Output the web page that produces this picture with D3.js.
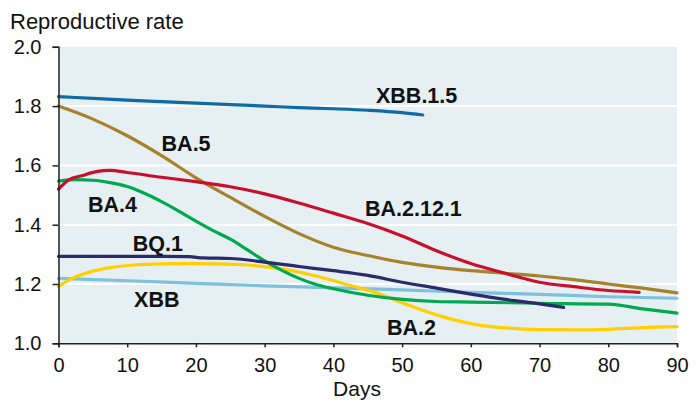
<!DOCTYPE html>
<html>
<head>
<meta charset="utf-8">
<script src="https://cdn.jsdelivr.net/npm/d3@7"></script>
<style>
  html, body { margin: 0; padding: 0; background: #ffffff; }
  svg { display: block; font-family: "Liberation Sans", Arial, Helvetica, sans-serif; }
</style>
</head>
<body>
<svg id="chart" width="695" height="400"></svg>
<script>
// ---------- data ----------
const xTicks = [0, 10, 20, 30, 40, 50, 60, 70, 80, 90];
const yTicks = [1.0, 1.2, 1.4, 1.6, 1.8, 2.0];

const xbb15Days = [0, 5, 10, 15, 20, 25, 30, 35, 40, 45, 50, 53];
const xbb15Rate = [1.832, 1.826, 1.820, 1.815, 1.810, 1.805, 1.800, 1.795, 1.791, 1.786, 1.778, 1.770];

const ba5Days = [0, 5, 10, 15, 20, 25, 30, 35, 40, 45, 50, 55, 60, 65, 70, 75, 80, 85, 90];
const ba5Rate = [1.800, 1.756, 1.700, 1.633, 1.558, 1.492, 1.428, 1.370, 1.324, 1.296, 1.273, 1.257, 1.245, 1.236, 1.227, 1.215, 1.200, 1.186, 1.170];

const ba2121Days = [0, 1.5, 3.5, 5.5, 7.5, 10, 15, 20, 25, 30, 35, 40, 45, 50, 55, 60, 65, 70, 75, 80, 84.5];
const ba2121Rate = [1.520, 1.551, 1.566, 1.579, 1.583, 1.576, 1.560, 1.545, 1.528, 1.504, 1.473, 1.439, 1.404, 1.362, 1.312, 1.269, 1.236, 1.206, 1.191, 1.178, 1.172];

const ba4Days = [0, 2.5, 5, 7.5, 10, 12.5, 15, 17.5, 20, 22.5, 25, 27.5, 30, 32.5, 35, 37.5, 40, 45, 50, 55, 60, 70, 80, 85, 90];
const ba4Rate = [1.547, 1.552, 1.550, 1.542, 1.529, 1.506, 1.478, 1.446, 1.412, 1.380, 1.351, 1.315, 1.278, 1.246, 1.219, 1.198, 1.184, 1.162, 1.148, 1.141, 1.139, 1.135, 1.132, 1.116, 1.102];

const bq1Days = [0, 5, 10, 15, 19, 21, 25, 30, 35, 40, 45, 50, 55, 60, 65, 70, 73.5];
const bq1Rate = [1.293, 1.293, 1.293, 1.293, 1.292, 1.288, 1.286, 1.274, 1.259, 1.245, 1.229, 1.206, 1.186, 1.166, 1.148, 1.133, 1.121];

const ba2Days = [0, 2, 4.5, 7.5, 11, 15, 19, 23, 27.5, 32.5, 37.5, 42.5, 46, 51, 56, 60.5, 65.5, 70, 75, 80, 85, 90];
const ba2Rate = [1.192, 1.219, 1.240, 1.255, 1.264, 1.268, 1.269, 1.268, 1.264, 1.251, 1.227, 1.195, 1.172, 1.128, 1.089, 1.064, 1.051, 1.046, 1.045, 1.047, 1.053, 1.056];

const xbbDays = [0, 10, 20, 30, 40, 50, 60, 70, 80, 90];
const xbbRate = [1.219, 1.211, 1.202, 1.194, 1.187, 1.180, 1.172, 1.165, 1.157, 1.152];

const seriesNames = ["XBB", "BA.2", "BA.4", "BQ.1", "BA.5", "BA.2.12.1", "XBB.1.5"];
const seriesDays  = [xbbDays, ba2Days, ba4Days, bq1Days, ba5Days, ba2121Days, xbb15Days];
const seriesRates = [xbbRate, ba2Rate, ba4Rate, bq1Rate, ba5Rate, ba2121Rate, xbb15Rate];

// ---------- styles / layout ----------
const colors = {
  "XBB": "#7cc1de",
  "BA.2": "#ffcf00",
  "BA.4": "#00a94f",
  "BQ.1": "#2b2a6b",
  "BA.5": "#a6822a",
  "BA.2.12.1": "#c8102e",
  "XBB.1.5": "#0f6aa6"
};
// label anchor (in data units: day of left edge, rate of baseline)
const labelAnchors = {
  "XBB.1.5": [46.2, 1.810],
  "BA.5": [15.0, 1.648],
  "BA.4": [4.3, 1.444],
  "BA.2.12.1": [44.6, 1.430],
  "BQ.1": [10.8, 1.312],
  "XBB": [11.0, 1.123],
  "BA.2": [47.8, 1.028]
};

const margin = { left: 58.5, right: 18, top: 46.8, bottom: 56.7 };
const W = 695, H = 400;
const svg = d3.select("#chart");

const x = d3.scaleLinear().domain([0, 90]).range([margin.left, W - margin.right]);
const y = d3.scaleLinear().domain([1.0, 2.0]).range([H - margin.bottom, margin.top]);

// plot background
svg.append("rect")
  .attr("x", x(0)).attr("y", y(2.0))
  .attr("width", x(90) - x(0)).attr("height", y(1.0) - y(2.0))
  .attr("fill", "#e6eff2");

// gridlines
svg.append("g").selectAll("line")
  .data(yTicks.filter(v => v > 1.0 && v < 2.0))
  .join("line")
  .attr("x1", x(0)).attr("x2", x(90))
  .attr("y1", d => y(d)).attr("y2", d => y(d))
  .attr("stroke", "#ffffff").attr("stroke-width", 2);

// series lines
const line = d3.line()
  .x(d => x(d[0]))
  .y(d => y(d[1]))
  .curve(d3.curveMonotoneX);

seriesNames.forEach((name, i) => {
  const pts = seriesDays[i].map((dd, j) => [dd, seriesRates[i][j]]);
  svg.append("path")
    .datum(pts)
    .attr("d", line)
    .attr("fill", "none")
    .attr("stroke", colors[name])
    .attr("stroke-width", 3.2)
    .attr("stroke-linecap", "round")
    .attr("stroke-linejoin", "round");
});

// axes
const yAxis = d3.axisLeft(y).tickValues(yTicks).tickFormat(d3.format(".1f")).tickSize(6).tickPadding(11);
const gy = svg.append("g").attr("transform", `translate(${x(0)},0)`).call(yAxis);
gy.select(".domain").attr("stroke", "#222").attr("stroke-width", 1.5);
gy.selectAll(".tick line").attr("stroke", "#222").attr("stroke-width", 1.5);
gy.selectAll(".tick text").attr("fill", "#111").style("font-size", "20px")
  .style("font-family", '"Liberation Sans", Arial, sans-serif');

const xAxis = d3.axisBottom(x).tickValues(xTicks).tickFormat(d3.format("d")).tickSize(4).tickPadding(11);
const gx = svg.append("g").attr("transform", `translate(0,${y(1.0)})`).call(xAxis);
gx.select(".domain").attr("stroke", "#222").attr("stroke-width", 1.5);
gx.selectAll(".tick line").attr("stroke", "#222").attr("stroke-width", 1.5);
gx.selectAll(".tick text").attr("fill", "#111").style("font-size", "20px")
  .style("font-family", '"Liberation Sans", Arial, sans-serif');

// series labels
svg.append("g").selectAll("text")
  .data(seriesNames)
  .join("text")
  .attr("x", d => x(labelAnchors[d][0]))
  .attr("y", d => y(labelAnchors[d][1]))
  .attr("font-size", 21.5)
  .attr("font-weight", "bold")
  .attr("fill", "#111")
  .text(d => d);

// axis titles
svg.append("text")
  .attr("x", 10).attr("y", 29)
  .attr("font-size", 22)
  .attr("fill", "#111")
  .text("Reproductive rate");

svg.append("text")
  .attr("x", 357).attr("y", 396)
  .attr("text-anchor", "middle")
  .attr("font-size", 21)
  .attr("fill", "#111")
  .text("Days");
</script>
</body>
</html>
